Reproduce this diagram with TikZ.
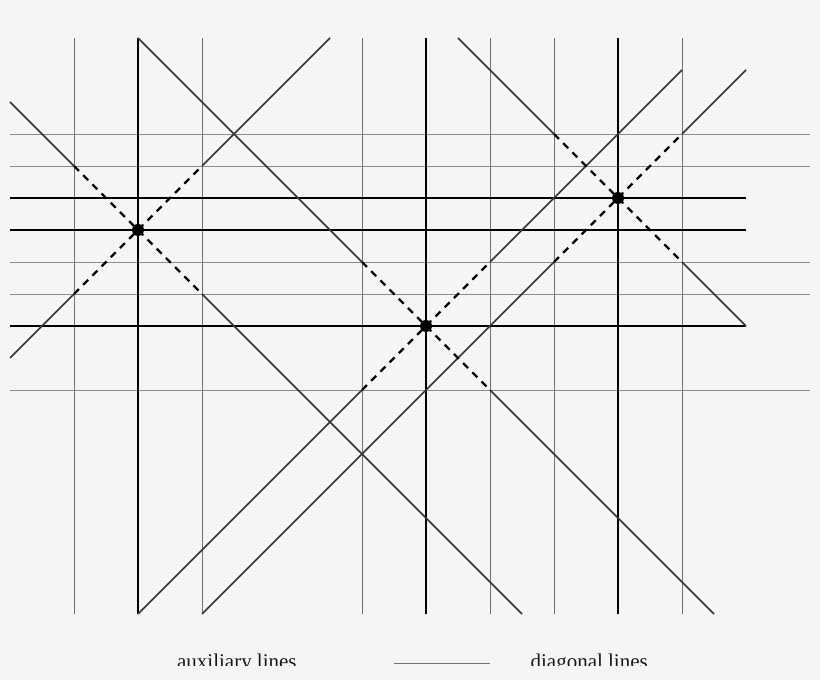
\documentclass[tikz,border=0pt]{standalone}
\usepackage{fontspec}
\setmainfont{Liberation Serif}
\definecolor{paper}{HTML}{F5F5F5}
\begin{document}
\begin{tikzpicture}[x=32pt,y=32pt,
	auxv/.style={line width=0.9pt,draw=black!55},
	auxh/.style={line width=0.9pt,draw=black!45},
	heavy/.style={line width=2.4pt,draw=black},
	diag/.style={line width=1.5pt,draw=black!80},
	hidden/.style={line width=2.2pt,draw=black,dash pattern=on 7pt off 6pt}]
	\def\W{25.3125}
	\def\H{19.1875}
	\fill[paper] (-0.3125,-2.0625) rectangle (\W,\H);
	\useasboundingbox (-0.3125,-2.0625) rectangle (\W,\H);
	% auxiliary lines
	\foreach \x in {2,6,11,15,17,21} \draw[auxv] (\x,0) -- (\x,18);
	\foreach \y in {7,10,11,14,15} \draw[auxh] (0,\y) -- (25,\y);
	% main lines
	\foreach \x in {4,13,19} \draw[heavy] (\x,0) -- (\x,18);
	\foreach \y in {9,12,13} \draw[heavy] (0,\y) -- (23,\y);
	% diagonals, solid parts
	\foreach \a/\b/\c/\d in {0/16/2/14, 6/10/16/0, 0/8/2/10, 6/14/10/18,
		4/18/11/11, 15/7/22/0, 4/0/11/7, 15/11/21/17,
		6/0/17/11, 21/15/23/17, 14/18/17/15, 21/11/23/9}
		\draw[diag] (\a,\b) -- (\c,\d);
	% diagonals, dashed parts and points
	\foreach \n/\px/\py in {A/4/12,B/13/9,C/19/13}{
		\coordinate (P\n) at (\px,\py);
		\draw[hidden] (\px-2,\py-2) -- (\px+2,\py+2);
		\draw[hidden] (\px-2,\py+2) -- (\px+2,\py-2);
		\fill (P\n) circle (6pt);
	}
	% legend
	\begin{scope}
		\clip (-0.3125,-1.61) rectangle (\W,-0.9);
		\node[anchor=base,text=black!90,font=\fontsize{21}{24}\selectfont] (auxlab) at (7.09,-1.70) {auxiliary lines};
		\node[anchor=base,text=black!90,font=\fontsize{21}{24}\selectfont] (diaglab) at (18.1,-1.70) {diagonal lines};
	\end{scope}
	\draw[auxv] (12,-1.53) -- (15,-1.53);
\end{tikzpicture}
\end{document}
